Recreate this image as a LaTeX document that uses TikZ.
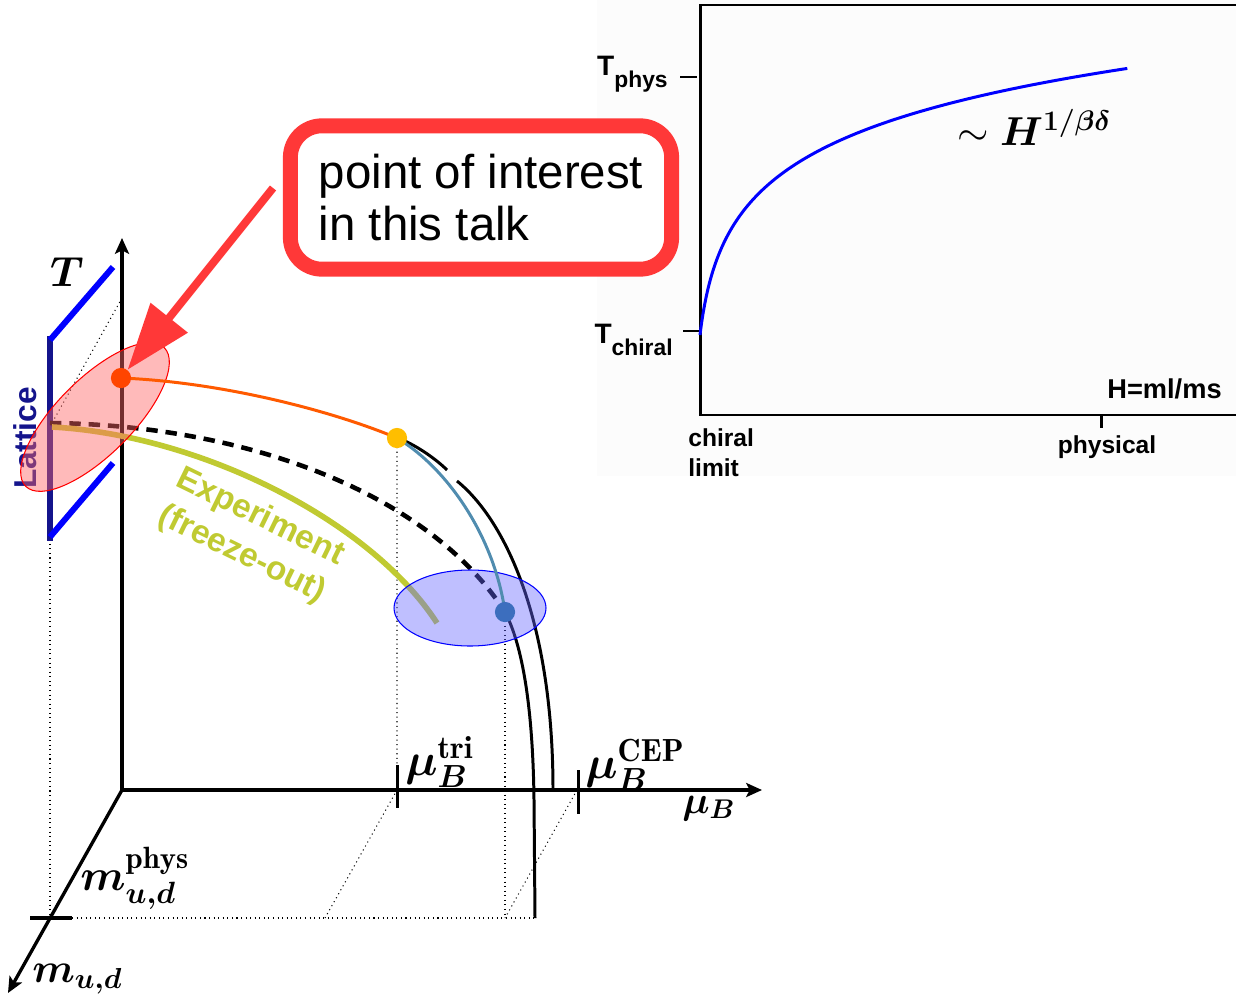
\RequirePackage{fix-cm}
\documentclass[tikz,border=0pt]{standalone}
\usepackage{fontspec}
\usepackage{amsmath}
\usepackage{bm}
\usetikzlibrary{arrows.meta}
\newfontfamily\arialfont{Liberation Sans}
\definecolor{boxred}{RGB}{255,56,56}
\definecolor{latnavy}{RGB}{20,20,140}
\definecolor{olivecol}{RGB}{192,202,50}
\definecolor{orangecol}{RGB}{255,90,0}
\definecolor{reddotcol}{RGB}{255,69,0}
\definecolor{yeldotcol}{RGB}{255,190,0}
\definecolor{steelcol}{RGB}{80,140,175}
\definecolor{bluedotcol}{RGB}{60,110,190}
\begin{document}
\begin{tikzpicture}[x=0.02cm, y=-0.02cm, >=stealth,
  axline/.style={line width=1.9pt,-{Stealth[length=9pt,width=8pt,inset=2pt]}},
  guide/.style={dotted,line width=0.6pt},
  ptdot/.style={circle,inner sep=0pt,minimum size=11.5pt},
  mathlab/.style={inner sep=0pt,font=\fontsize{26}{30}\selectfont},
  boldlab/.style={inner sep=0pt,font=\arialfont\bfseries\fontsize{14}{17}\selectfont}]

\useasboundingbox (0,0) rectangle (1236,997);

%=== Right panel: T_pc(H) ===
\begin{scope}
  \fill[black!1] (597,0) rectangle (1236,476);
  \draw[line width=1.7pt] (1236,5) -- (700,5) -- (700,415) -- (1236,415);
  \foreach \xa/\xb/\yt in {680/697/77, 683/700/331}{
    \draw[line width=1.7pt] (\xa,\yt) -- (\xb,\yt);
  }
  \draw[line width=1.7pt] (1101,415) -- (1101,428);
  \draw[blue,line width=1.7pt,domain=0:3.998,samples=120]
    plot({700+8*(exp(\x)-1)},{335-66.7*\x});

  \node[boldlab,anchor=base east,font=\arialfont\bfseries\fontsize{16}{17}\selectfont] (tphys) at (668,75)
    {T\raisebox{-7pt}{\fontsize{13}{13}\selectfont phys}};
  \node[boldlab,anchor=base east,font=\arialfont\bfseries\fontsize{16}{17}\selectfont] (tchiral) at (673,343)
    {T\raisebox{-7pt}{\fontsize{13}{13}\selectfont chiral}};
  \node[boldlab,anchor=base east,font=\arialfont\bfseries\fontsize{15.5}{17}\selectfont] (hratio) at (1222,398) {H=ml/ms};
  \node[boldlab,anchor=north west,align=left] (chilim) at (688,428) {chiral\\limit};
  \node[boldlab,anchor=base] (physlab) at (1107,453) {physical};
  \node[inner sep=0pt,anchor=base west,font=\fontsize{23}{26}\selectfont] (scaling)
    at (957,145) {$\sim\bm{H^{1/\beta\delta}}$};
\end{scope}

%=== Left panel: phase diagram ===
\coordinate (O) at (122,790);
\coordinate (Ttop) at (122,238);
\coordinate (mutip) at (762,790);
\coordinate (mtip) at (8,993);
\coordinate (redpt) at (121,378);
\coordinate (tript) at (397,438);
\coordinate (ceppt) at (505,612);
\coordinate (mutri) at (397,790);
\coordinate (mucep) at (577,790);

% axes
\draw[axline] (O) -- (Ttop);
\draw[axline] (O) -- (mutip);
\draw[axline] (O) -- (mtip);
\foreach \xt/\ya/\yb in {397/765/808, 578/770/814}{
  \draw[line width=1.7pt] (\xt,\ya) -- (\xt,\yb);
}
\draw[line width=2.8pt] (30,918) -- (72,918);

% projections
\draw[guide] (72,918) -- (535,918);
\draw[guide] (50,425) -- (50,918);
\draw[guide] (122,298) -- (52,423);
\draw[guide] (tript) -- (mutri) -- ++(-72,128);
\draw[guide] (ceppt) -- (505,918);
\draw[guide] (mucep) -- (505,918);

% lattice bracket
\draw[latnavy,line width=3.4pt] (50,336) -- (50,541);
\draw[blue,line width=3.4pt] (50,340) -- (113,267);
\draw[blue,line width=3.4pt] (50,537) -- (113,463);
\node[text=latnavy,rotate=90,inner sep=0pt,
  font=\arialfont\bfseries\fontsize{18}{20}\selectfont] (lattice) at (25,438) {Lattice};

% lines
\draw[line width=2.6pt,dash pattern=on 6.5pt off 4.5pt]
  (50,423) .. controls (250,425) and (430,495) .. (ceppt);
\draw[olivecol,line width=3.2pt]
  (52,427) .. controls (200,435) and (370,520) .. (437,623);
\draw[line width=1.7pt] (405,441) .. controls (420,448) and (437,460) .. (447,470);
\draw[line width=1.7pt] (457,481) .. controls (505,520) and (553,620) .. (553,790);
\draw[line width=1.7pt] (ceppt) .. controls (525,650) and (533,720) .. (534,800) -- (535,918);

% regions
\draw[red,line width=0.6pt,fill=red!60,fill opacity=0.45,rotate around={45:(95,417)}]
  (95,417) ellipse (98 and 38);
\draw[blue,line width=0.6pt,fill=blue!60,fill opacity=0.42]
  (470,608) ellipse (76 and 38);

\draw[orangecol,line width=1.7pt] (redpt) .. controls (220,382) and (330,410) .. (tript);
\draw[steelcol,line width=1.7pt] (tript) .. controls (450,470) and (495,540) .. (ceppt);

\node[ptdot,fill=reddotcol] (reddot) at (redpt) {};
\node[ptdot,fill=yeldotcol] (tridot) at (tript) {};
\node[ptdot,fill=bluedotcol] (cepdot) at (ceppt) {};

\node[text=olivecol,rotate=-26,align=center,inner sep=0pt,
  font=\arialfont\bfseries\fontsize{19}{23.6}\selectfont] (expt) at (251,536)
  {Experiment\\(freeze-out)};

% labels
\node[inner sep=0pt,font=\fontsize{24}{28}\selectfont] (Tlab) at (67,272) {$\bm{T}$};
\node[mathlab,anchor=base west,font=\fontsize{22}{26}\selectfont] (mulab) at (682,813) {$\bm{\mu_B}$};
\node[mathlab,anchor=base west] (trilab) at (405,775) {$\bm{\mu}_{\bm{B}}^{\mathbf{tri}}$};
\node[mathlab,anchor=base west] (ceplab) at (585,778) {$\bm{\mu}_{\bm{B}}^{\mathbf{CEP}}$};
\node[mathlab,anchor=base west,font=\fontsize{25}{30}\selectfont] (mphys) at (80,890) {$\bm{m}_{\bm{u,d}}^{\mathbf{phys}}$};
\node[mathlab,anchor=base west,font=\fontsize{23.5}{28}\selectfont] (mlab) at (32,982) {$\bm{m_{u,d}}$};

%=== Callout ===
\node[draw=boxred,fill=white,line width=8.5pt,rounded corners=18pt,
  minimum width=217pt,minimum height=81.6pt,align=left,
  font=\arialfont\fontsize{27}{30}\selectfont] (poi) at (481,197.5)
  {point of interest\\in this talk};
\coordinate (arrstart) at (273,188);
\draw[boxred,line width=4.5pt,-{Triangle[length=38pt,width=26pt]}] (arrstart) -- (reddot);

\end{tikzpicture}
\end{document}
